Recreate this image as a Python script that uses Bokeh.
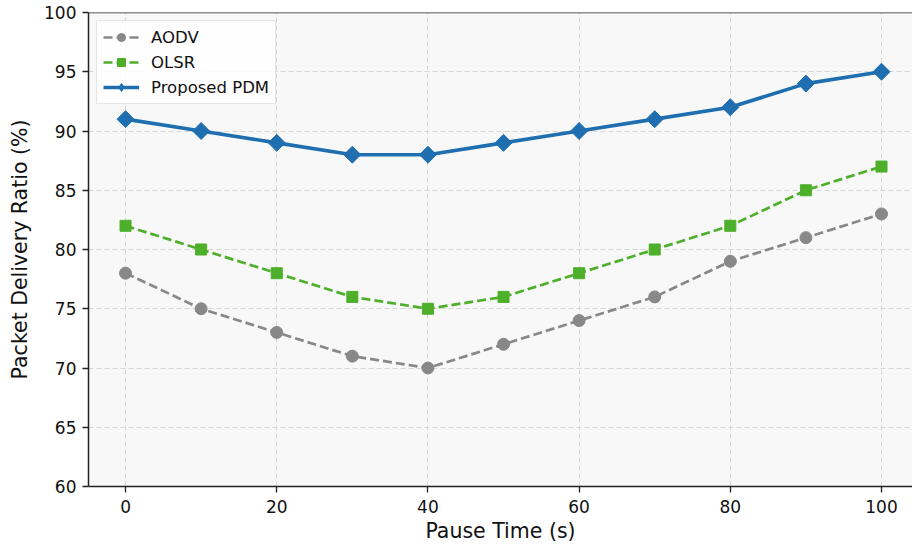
import math
from bokeh.plotting import figure
from bokeh.models import Span, FixedTicker, Range1d, Legend, LegendItem
from bokeh.embed import file_html
from bokeh.resources import INLINE

# Pause time (s) and packet delivery ratio (%) per protocol
pause_time = [0, 10, 20, 30, 40, 50, 60, 70, 80, 90, 100]
aodv = [78, 75, 73, 71, 70, 72, 74, 76, 79, 81, 83]
olsr = [82, 80, 78, 76, 75, 76, 78, 80, 82, 85, 87]
pdm = [91, 90, 89, 88, 88, 89, 90, 91, 92, 94, 95]

x_ticks = [0, 20, 40, 60, 80, 100]
y_ticks = [60, 65, 70, 75, 80, 85, 90, 95, 100]

FONT = "DejaVu Sans"

p = figure(
    width=912, height=550,
    x_range=Range1d(-4.9, 104.1), y_range=Range1d(60, 100),
    output_backend="svg", toolbar_location=None,
    min_border_left=88, min_border_right=0, min_border_top=12, min_border_bottom=64,
    background_fill_color="#f8f8f8", border_fill_color="white",
    outline_line_color=None,
)

# grid
for g in (p.xgrid, p.ygrid):
    g.grid_line_color = "#d6d6d6"
    g.grid_line_dash = "5 3"
    g.grid_line_width = 1

# axes
p.xaxis.ticker = FixedTicker(ticks=x_ticks)
p.yaxis.ticker = FixedTicker(ticks=y_ticks)
for ax in (p.xaxis, p.yaxis):
    ax.axis_line_color = "#222222"
    ax.axis_line_width = 1.5
    ax.major_tick_line_color = "#222222"
    ax.major_tick_line_width = 1.3
    ax.major_tick_in = 0
    ax.major_tick_out = 6
    ax.minor_tick_line_color = None
    ax.major_label_text_font = FONT
    ax.major_label_text_font_size = "17px"
    ax.major_label_text_color = "#111111"
    ax.axis_label_text_font = FONT
    ax.axis_label_text_font_size = "20.5px"
    ax.axis_label_text_font_style = "normal"
    ax.axis_label_text_color = "#111111"
p.xaxis.axis_label = "Pause Time (s)"
p.yaxis.axis_label = "Packet Delivery Ratio (%)"
p.xaxis.major_label_standoff = 7
p.xaxis.axis_label_standoff = 3
p.yaxis.major_label_standoff = 6
p.yaxis.axis_label_standoff = 9

# top frame edge
p.add_layout(Span(location=100, dimension="width", line_color="#222222",
                  line_width=1.5, level="overlay"))

# series
aodv_line = p.line(pause_time, aodv, line_color="#888888", line_width=2.7, line_dash="9 4")
aodv_pts = p.scatter(pause_time, aodv, marker="circle", size=12,
                     fill_color="#888888", line_color="#888888")

olsr_line = p.line(pause_time, olsr, line_color="#4daf2a", line_width=2.7, line_dash="9 4")
olsr_pts = p.scatter(pause_time, olsr, marker="square", size=11,
                     fill_color="#4daf2a", line_color="#4daf2a")

pdm_line = p.line(pause_time, pdm, line_color="#1f6fb0", line_width=3.6)
# diamond marker for the legend swatch, sitting beneath the rotated squares
pdm_key = p.scatter(pause_time, pdm, marker="diamond", size=11,
                    fill_color="#1f6fb0", line_color="#1f6fb0")
pdm_pts = p.scatter(pause_time, pdm, marker="square", angle=math.pi / 4, size=12,
                    fill_color="#1f6fb0", line_color="#1f6fb0")

lg = Legend(items=[
    LegendItem(label="AODV", renderers=[aodv_line, aodv_pts]),
    LegendItem(label="OLSR", renderers=[olsr_line, olsr_pts]),
    LegendItem(label="Proposed PDM", renderers=[pdm_line, pdm_key]),
])
lg.location = "top_left"
lg.margin = 8
lg.padding = 6
lg.spacing = 5
lg.glyph_width = 36
lg.glyph_height = 20
lg.label_height = 20
lg.label_standoff = 12
lg.label_text_font = FONT
lg.label_text_font_size = "16.5px"
lg.label_text_color = "#111111"
lg.border_line_color = "#cccccc"
lg.border_line_width = 1
lg.background_fill_color = "white"
lg.background_fill_alpha = 0.85
p.add_layout(lg, "center")

open("out.html", "w").write(file_html(p, INLINE))
